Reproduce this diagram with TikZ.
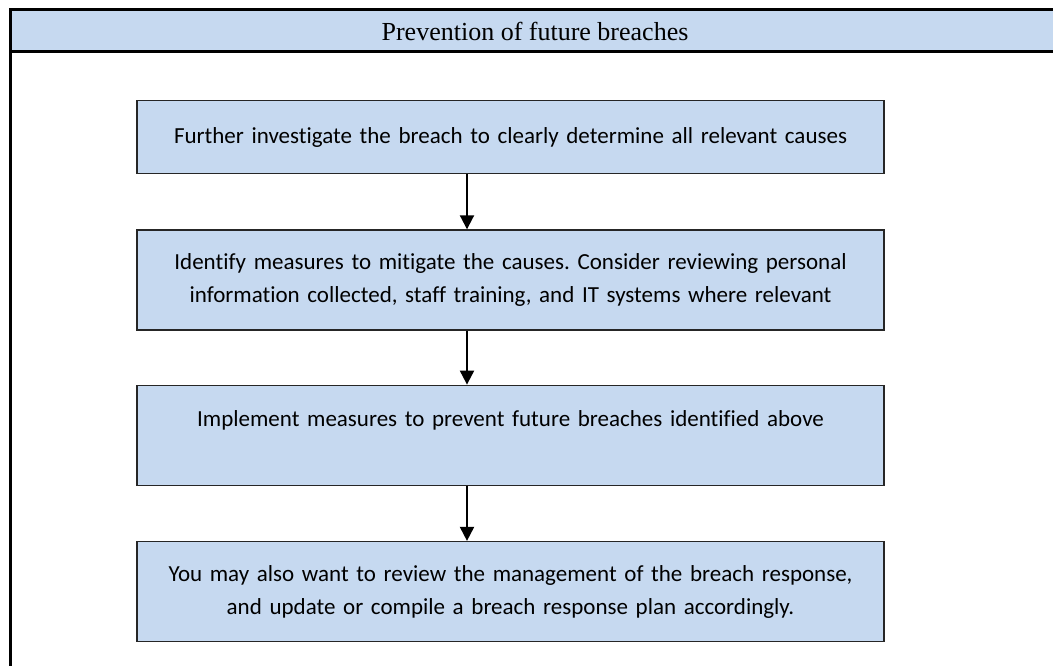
\documentclass[tikz,border=0pt]{standalone}
\usepackage{fontspec}
\setmainfont{Liberation Serif}
\newfontfamily\calibrifont[Ligatures=NoCommon]{Carlito}
\usepackage{xcolor}
\usetikzlibrary{arrows.meta, positioning}
\definecolor{paleblue}{HTML}{C6D9F0}
\frenchspacing

\begin{document}
\begin{tikzpicture}[x=1pt, y=-1pt,
stepbox/.style={rectangle, draw=black!85, fill=paleblue, line width=1.3pt, minimum width=747pt, minimum height=100pt, text width=720pt, inner sep=0pt, align=center, font=\calibrifont\fontsize{23}{33}\selectfont},
header/.style={rectangle, draw=black, fill=paleblue, line width=3pt, minimum width=1050pt, minimum height=42pt, inner sep=0pt, font=\fontsize{26}{30}\selectfont},
flow/.style={-{Triangle[width=14pt,length=14pt]}, line width=2pt}
]
	\useasboundingbox (0,0) rectangle (1053,666);
	\clip (0,0) rectangle (1053,666);
	\draw[line width=3pt] (10,10) rectangle (1060,720);
	\node[header] (title) at (535,31) {Prevention of future breaches};

	\node[stepbox, minimum height=73pt, anchor=north] (n1) at (510.5,100) {Further investigate the breach to clearly determine all relevant causes};
	\node[stepbox, anchor=north, shift={(0pt,-55pt)}] (n2) at (n1.south) {Identify measures to mitigate the causes. Consider reviewing personal\\information collected, staff training, and IT systems where relevant};
	\node[stepbox, anchor=north, shift={(0pt,-54pt)}] (n3) at (n2.south) {Implement measures to prevent future breaches identified above\\\mbox{}};
	\node[stepbox, anchor=north, shift={(0pt,-55pt)}] (n4) at (n3.south) {You may also want to review the management of the breach response,\\and update or compile a breach response plan accordingly.};

	\draw[flow] ([xshift=-43.5pt]n1.south) -- ([xshift=-43.5pt]n2.north);
	\draw[flow] ([xshift=-43.5pt]n2.south) -- ([xshift=-43.5pt]n3.north);
	\draw[flow] ([xshift=-43.5pt]n3.south) -- ([xshift=-43.5pt]n4.north);
\end{tikzpicture}
\end{document}
